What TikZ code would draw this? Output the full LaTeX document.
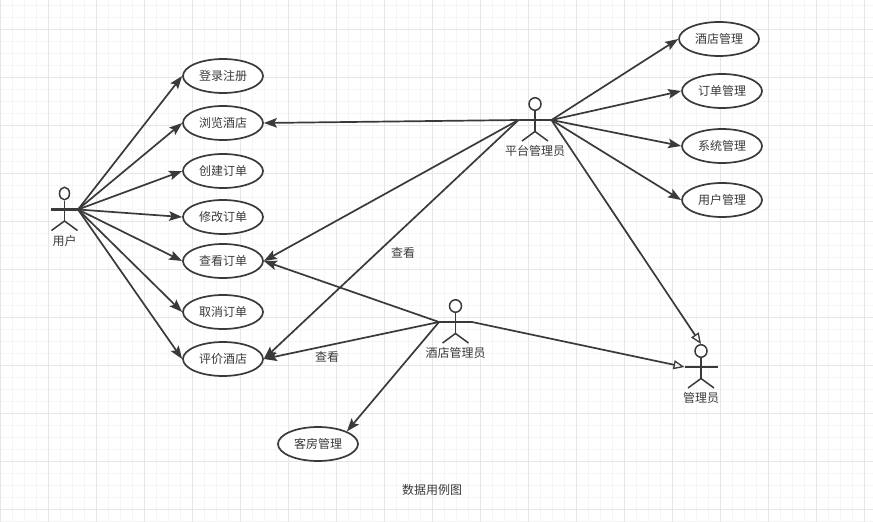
\documentclass[tikz,border=0pt]{standalone}
\usepackage{fontspec}
\setmainfont{Noto Sans CJK SC}[BoldFont={Noto Sans CJK SC}]
\usetikzlibrary{shapes.geometric,arrows.meta}
\definecolor{ink}{HTML}{3A3A3A}
\definecolor{gridminor}{HTML}{F5F5F5}
\definecolor{gridmajor}{HTML}{E6E6E6}
\tikzset{
  usecase/.style={draw=ink,line width=1.7pt,ellipse,fill=white,minimum width=80pt,minimum height=34pt,inner sep=0pt,font=\fontsize{12}{14}\selectfont,text=ink},
  headc/.style={draw=ink,line width=1.5pt,ellipse,fill=white,minimum width=#1,minimum height=12.5pt,inner sep=0pt},
  limb/.style={draw=ink,line width=1.5pt},
  arm/.style={draw=ink,line width=2.2pt},
  lbl/.style={font=\fontsize{12}{14}\selectfont,text=ink,inner sep=0pt},
  flow/.style={draw=ink,line width=1.7pt,-{Stealth[length=13pt,width=9.5pt,inset=2.5pt]}},
  gen/.style={draw=ink,line width=1.7pt,-{Triangle[open,length=11pt,width=9pt,line width=1.3pt]}}
}
\newcommand{\actor}[6]{%
  % name, head x, arm y, half arm, label, head width
  \node[headc=#6] (#1head) at (#2,#3-16) {};
  \coordinate (#1L) at (#2-#4,#3);
  \coordinate (#1R) at (#2+#4,#3);
  \coordinate (#1hip) at (#2,#3+11.5);
  \coordinate (#1fl) at (#2-13,#3+21);
  \coordinate (#1fr) at (#2+13,#3+21);
  \draw[limb] (#1head) -- (#1hip);
  \draw[limb] (#1fl) -- (#1hip) -- (#1fr);
  \draw[arm] (#1L) -- (#1R);
  \node[lbl] (#1text) at (#2,#3+31) {#5};
}
\begin{document}
\begin{tikzpicture}[x=1pt,y=-1pt]
\useasboundingbox (0,0) rectangle (873,522);
\fill[white] (0,0) rectangle (873,522);
\foreach \i in {0,...,72} {\draw[gridminor,line width=1pt] ({0.5+12*\i},0) -- ({0.5+12*\i},522);}
\foreach \i in {0,...,43} {\draw[gridminor,line width=1pt] (0,{5+12*\i}) -- (873,{5+12*\i});}
\foreach \i in {0,...,18} {\draw[gridmajor,line width=1pt] ({0.5+48*\i},0) -- ({0.5+48*\i},522);}
\foreach \i in {0,...,10} {\draw[gridmajor,line width=1pt] (0,{29+48*\i}) -- (873,{29+48*\i});}

\node[usecase] (login) at (223,76) {登录注册};
\node[usecase] (browse) at (223,123) {浏览酒店};
\node[usecase] (create) at (223,171) {创建订单};
\node[usecase] (modify) at (223,217) {修改订单};
\node[usecase] (view) at (223,261) {查看订单};
\node[usecase] (cancel) at (223,312) {取消订单};
\node[usecase] (review) at (223,359) {评价酒店};
\node[usecase] (room) at (318,444) {客房管理};
\node[usecase] (hotelm) at (719,39) {酒店管理};
\node[usecase] (orderm) at (722,91) {订单管理};
\node[usecase] (sysm) at (722,146) {系统管理};
\node[usecase] (userm) at (722,200) {用户管理};

\actor{u}{64.5}{209.5}{13.5}{用户}{10pt}
\actor{p}{535}{120}{16.5}{平台管理员}{12pt}
\actor{h}{455.5}{322}{16.5}{酒店管理员}{12pt}
\actor{a}{701}{367}{16.5}{管理员}{12pt}

\foreach \t in {login,browse,create,modify,view,cancel,review}
  \draw[flow] (uR) -- (\t.west);
\foreach \t in {hotelm,orderm,sysm,userm}
  \draw[flow] (pR) -- (\t.west);
\foreach \t in {browse,view,review}
  \draw[flow] (pL) -- (\t.east);
\foreach \t in {view,review}
  \draw[flow] (hL) -- (\t.east);
\draw[flow] (hL) -- (room.north east);
\draw[gen] (pR) -- (ahead.north);
\draw[gen] (hR) -- (aL);

\node[lbl] (see1) at (403,253) {查看};
\node[lbl] (see2) at (327,357) {查看};
\node[lbl] (title) at (432,490) {数据用例图};
\end{tikzpicture}
\end{document}
